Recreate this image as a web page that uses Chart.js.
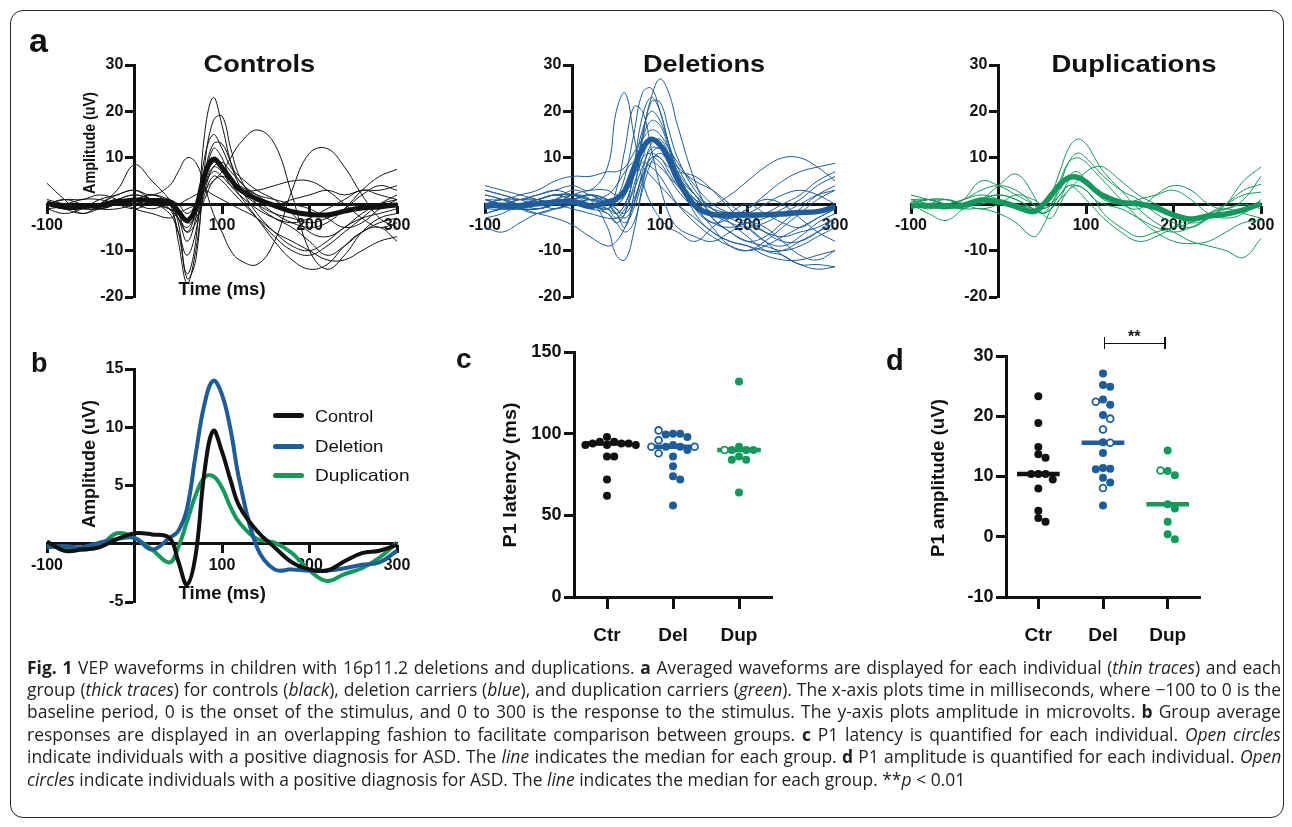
<!DOCTYPE html>
<html>
<head>
<meta charset="utf-8">
<title>VEP waveforms in 16p11.2</title>
<script src="https://cdn.jsdelivr.net/npm/chart.js@4.4.1/dist/chart.umd.min.js"></script>
<style>
  html, body { margin: 0; padding: 0; background: #fff; }
  #fig { position: relative; width: 1292px; height: 827px; overflow: hidden; font-family: "Liberation Sans", Arial, sans-serif; color: #111; }
  #frame { position: absolute; left: 10px; top: 10px; width: 1274px; height: 808px; box-sizing: border-box; border: 1.5px solid #2a2a2a; border-radius: 13px; }
  canvas { position: absolute; }
  .txt { position: absolute; white-space: nowrap; line-height: 1; z-index: 5; }
  .cap { font-family: "Open Sans", "Noto Sans", sans-serif; color: #231f20; font-weight: 400; }
  .cap b { font-weight: 700; }
  .bar { position: absolute; background: #111; z-index: 5; }
  .swatch { position: absolute; height: 5px; border-radius: 3px; z-index: 5; }
</style>
</head>
<body>
<div id="fig">
  <div id="frame"></div>
  <canvas id="chart-ctrl"></canvas>
  <canvas id="chart-del"></canvas>
  <canvas id="chart-dup"></canvas>
  <canvas id="chart-avg"></canvas>
  <canvas id="chart-lat"></canvas>
  <canvas id="chart-amp"></canvas>
</div>
<script>
// Fig. 1 - VEP waveforms (a, b) and P1 measures (c, d)

// --- Data: waveforms (uV) sampled at these times (ms) ---
const timeMs = [-100, -80, -60, -40, -20, 0, 20, 40, 50, 60, 70, 80, 90, 100, 110, 120, 140, 160, 180, 200, 220, 240, 260, 280, 300];

// group averages (thick traces, also panel b)
const ctrlAvg = [0.2, -0.6, -0.5, -0.3, 0.4, 0.9, 0.8, 0.5, -1.5, -3.5, -0.9, 6.2, 9.7, 7.9, 5.4, 3.2, 1.1, -0.3, -1.6, -2.2, -2.3, -1.5, -0.8, -0.6, -0.1];
const delAvg = [-0.3, -0.2, -0.3, 0.1, 0.4, 0.5, -0.5, 0.5, 1.1, 3, 7.7, 12, 14, 12.8, 9.7, 5.4, -0.3, -2.2, -2.2, -2.3, -2.3, -2.1, -1.8, -1.6, -0.6];
const dupAvg = [-0.2, -0.3, -0.5, -0.2, 0.9, 0.5, -0.5, -1.6, -0.3, 1.9, 4.2, 5.7, 5.8, 4.8, 3.1, 1.8, 0.4, 0.1, -0.8, -2.3, -3.2, -2.6, -2.1, -1.2, 0.1];

// individual traces (thin)
const ctrlTraces = [
  [0, -1, -0.5, 0, 1, 2, 1, -1, -6, -15, -8, 15, 23, 17, 9, 4, -2, -6, -9, -10, -8, -5, -3, -2, -1],
  [1, 0, -1, 0, 1, 1, 2, 0, -4, -16, -12, 8, 18, 19, 12, 6, 0, -3, -5, -8, -11, -9, -6, -4, -3],
  [-1, -2, -1, 1, 2, 3, 1, 0, -3, -8, -3, 10, 15, 12, 8, 6, 3, 1, -2, -6, -7, -5, -2, 0, 1],
  [0, 0, 1, 1, 0, -1, 0, -2, -6, -11, -6, 6, 13, 13, 9, 5, 2, 0, 1, 2, 3, 2, 3, 3, 4],
  [0, -1, -1, 0, 2, 3, 2, 4, 7, 10, 9, 4, -2, -6, -10, -12, -13, -8, 3, 11, 12, 8, 2, -3, -5],
  [0, 1, 1, 2, 1, -1, -2, -3, -2, -1, 0, 3, 5, 7, 10, 13, 16, 13, 2, -10, -14, -11, -6, -3, -2],
  [4.5, 1, -2, 0, 3, 8.5, 5, 1, -2, -6, -4, 2, 6, 5, 3, 1, -3, -7, -10, -11, -9, -6, -3, 0, 2],
  [0.5, 0, -1, -1, 0, 1, 0, -1, -3, -5, -2, 3, 8, 9, 7, 5, 1, -2, -4, -5, -4, -1, 3, 6, 7.5],
  [-1, -0.5, 0, 0, 1, 0, -1, 0, -1, -4, -3, 1, 5, 6, 5, 4, 2, 1, 0, -1, -3, -5, -4, -1, 1],
  [0, 0, 0, -1, -1, 0, 1, 0, 0, 1, 2, 3, 2, 1, 0, -1, -3, -6, -8, -10, -12, -12, -10, -8, -7],
  [0, -1, -2, -1, 0, 1, 2, 1, 0, -2, 0, 5, 9, 8, 6, 3, 0, -2, -3, -4, -3, -1, 2, 4, 3],
  [0, 0, 0, 0, 1, 2, 1, 0, -8, -17, -10, 4, 12, 10, 5, 2, -3, -8, -12, -14, -13, -9, -6, -5, -8],
  [0, 1, 0, -1, 0, 1, 0, -1, -2, -4, -1, 4, 7, 6, 4, 3, 3, 4, 5, 5, 3, 0, -3, -5, -4],
  [0, 0, 0, 0, 0, 0, 1, 0, -3, -6, -2, 4, 8, 7, 4, 2, -1, -3, -4, -3, -1, 1, 3, 2, 1],
];
const delTraces = [
  [1, 0, 1, 2, 3, 4, 3, 8, 20, 24, 15, 5, 0, -3, -5, -6, -8, -5, -2, 0, -2, -4, -5, -3, -1],
  [-1, -1, 0, 1, 2, 2, 0, -1, 3, 12, 21, 20, 12, 4, -2, -5, -7, -8, -6, -4, -5, -8, -11, -12, -10],
  [0, 1, 0, 0, -1, 0, 1, 0, -2, 0, 6, 15, 23, 27, 24, 17, 5, -3, -6, -8, -7, -4, -1, 2, 4],
  [2, 1, 0, 1, 2, 1, 0, -1, 1, 6, 15, 24, 25, 20, 13, 6, -2, -6, -8, -9, -10, -10, -8, -6, -4],
  [-2, -1, 0, 0, 1, 2, 1, -1, -3, -2, 8, 19, 23, 20, 13, 7, 0, -5, -9, -10, -8, -5, -2, 1, 3],
  [3, 2, 1, 0, 1, 3, 2, 0, -2, -5, 2, 14, 22, 22, 16, 10, 3, -1, -3, -5, -8, -11, -13, -14, -13.5],
  [0, -1, -1, 0, 1, 1, 2, 1, 0, 2, 8, 16, 20, 18, 13, 8, 2, -2, -3, -1, 2, 5, 7, 8, 8.8],
  [-3, -2, 0, 1, 2, 1, 0, -1, -2, 0, 6, 14, 18, 17, 12, 6, 1, -3, -6, -8, -9, -10, -9, -7, -5],
  [1, 1, 2, 3, 5, 6, 6, 7, 7, 8, 11, 14, 16, 15, 12, 9, 4, 0, -2, -4, -6, -7, -6, -5, -3],
  [0, 0, -1, -1, 0, 1, 0, -2, -4, -2, 4, 10, 14, 13, 9, 5, 1, 0, 2, 5, 8, 10, 10, 8, 5],
  [1, 0, -1, -1, 0, 2, 1, -5, -11, -12, -6, 4, 11, 12, 9, 5, -1, -4, -3, -1, 1, 0, -3, -6, -8],
  [0, -1, -1, -2, -3, -4.5, -7, -9, -8, -5, 0, 6, 10, 10, 7, 4, 0, -2, -3, -2, 0, 2, 3, 2, 0],
  [-5, -6, -4, -2, -1, 0, -1, -2, -4, -6, -4, 3, 9, 11, 9, 6, 2, -1, -4, -7, -10, -11, -13, -13, -13.5],
  [3, 2, 1, 2, 3, 2, 1, 0, -1, -2, 1, 6, 9, 8, 6, 4, 1, -1, -2, -3, -2, 0, 2, 5, 7],
  [-1, 0, 1, 1, 0, -1, -2, -3, -3, -1, 3, 8, 12, 12, 10, 8, 5, 3, 0, -3, -6, -8, -8, -6, -3],
  [2, 1, -1, -2, -1, 0, 1, 1, 0, 2, 6, 10, 11, 10, 8, 7, 6, 3, -1, -5, -8, -9, -7, -4, -2],
  [-2, -1, -1, -1, 0, 2, 3, 3, 2, 3, 6, 9, 8, 6, 3, 0, -4, -7, -9, -10, -9, -7, -5, -3, -1],
  [0, 1, 1, 1, 2, 2, 1, 2, 4, 7, 9, 8, 6, 4, 2, 0, -3, -6, -8, -9, -11, -12, -12, -11, -10],
  [4, 3, 2, 1, 0, 1, 2, 0, -2, -4, -1, 5, 10, 9, 6, 3, -1, -4, -5, -4, -3, -1, 1, 4, 6],
  [1, 0, 0, -1, 0, 1, 2, 1, -1, -3, 0, 7, 13, 14, 11, 7, 2, -2, -4, -5, -4, -2, 0, 2, 3],
];
const dupTraces = [
  [1, 1, 0, 1, 2, 1, -1, -2, -1, 2, 7, 12, 14, 13, 10, 7, 3, -1, -4, -6, -8, -9, -10, -11.5, -7.4],
  [0, -1, 0, 1, 3, 4, 3, 0, -2, 0, 4, 9, 11, 10, 8, 6, 3, 1, -2, -4, -5, -3, 0, 3, 4.3],
  [-1, 0, 1, 0, -1, 0, 2, 1, 0, 1, 5, 9, 10, 9, 7, 5, 1, -3, -6, -8, -8.5, -8, -6, -4, -3.5],
  [2, 1, 0, -1, 1, 2, 1, -1, -2, -1, 1, 3, 5, 7, 8, 8, 5, 2, 0, -2, -4, -3, 0, 5, 8],
  [1, 0, -1, 1, 5, 4, 2, 0, -1, 0, 3, 6, 7, 5, 3, 2, 0, -1, 2, 4, 3, 0, -1, 1, 6],
  [0, 1, 1, 0, 1, 4, 6.5, 2, -2, -3, 0, 3, 4, 3, 1, -2, -5, -7, -6, -5, -4, -2, 0, 2, 2.6],
  [0, 1, 0, -1, -1, -2, -4, -7, -5, -1, 2, 4, 4, 3, 1, 0, -1, -3, -5, -6, -5, -3, -1, 0, -1],
  [0, -2, -3.5, -1, 1, 2, 1, -1, -1, 0, 2, 4, 3, 1, -1, -3, -6, -8, -7, -5, -3, -2, -1, -2, -3],
  [0.5, 1, 1, 0, 0, 1, 0, -1, -2, -1, 1, 5, 6, 5, 3, 1, 0, 1, 2, 3, 1, -2, -3, -2, 1],
];

// --- Data: P1 measures per individual (open = ASD diagnosis) ---
const groups = ['Ctr', 'Del', 'Dup'];
const latCtr = [98, 95, 95, 94, 94, 94, 93, 93, 93, 86, 86, 72, 62];
const latDel = [100, 100, 99.5, 98, 93, 92, 92, 90, 86, 80, 74, 72, 56];
const latDelAsd = [102, 96, 92, 92, 88];
const latDup = [132, 92, 90, 90, 90, 86, 84, 84, 64];
const latDupAsd = [90];
const latMedian = [94, 92, 90];
const ampCtr = [23.3, 18.9, 14.9, 13.7, 13.1, 10.4, 10.4, 10.4, 9.5, 8.0, 4.3, 3.1, 2.5];
const ampDel = [27.1, 25.2, 24.9, 22.8, 21.9, 20.2, 15.7, 13.9, 11.4, 11.3, 11.2, 9.8, 9.0, 5.2];
const ampDelAsd = [22.4, 19.6, 17.8, 15.6, 8.1];
const ampDup = [14.3, 10.9, 10.2, 5.4, 4.7, 2.5, 0.4, -0.4];
const ampDupAsd = [11.0];
const ampMedian = [10.4, 15.6, 5.4];

// --- Style ---
const INK = '#111111';
const BLUE = '#1d5d9b';
const GREEN = '#12995c';
const PAD = 60;
const GAP = '\u2002\u2009'; // keeps y labels clear of a value-positioned axis

Chart.defaults.font.family = '"Liberation Sans", Arial, sans-serif';
Chart.defaults.color = INK;
Chart.defaults.plugins.legend.display = false;
Chart.defaults.plugins.tooltip.enabled = false;

// canvas sized so that the chart area lands on the given page box
function makeChart(id, area, cfg) {
  const cv = document.getElementById(id);
  const w = area.x1 - area.x0 + 2 * PAD;
  const h = area.y1 - area.y0 + 2 * PAD;
  cv.width = w; cv.height = h;
  cv.style.width = w + 'px'; cv.style.height = h + 'px';
  cv.style.left = (area.x0 - PAD) + 'px';
  cv.style.top = (area.y0 - PAD) + 'px';
  cfg.options = Object.assign({ responsive: false, animation: false, layout: { padding: PAD } }, cfg.options);
  return new Chart(cv, cfg);
}

const toXY = arr => arr.map((v, i) => ({ x: timeMs[i], y: v }));

function axisPair(x, y) {
  const grid = { drawOnChartArea: false, drawTicks: true, tickWidth: 3, tickColor: INK };
  const border = { display: true, color: INK, width: 3 };
  return {
    x: Object.assign({ type: 'linear', afterFit: s => { s.height = 0; }, border,
      grid: Object.assign({ tickLength: x.tickLength }, grid) }, x.opts),
    y: Object.assign({ type: 'linear', afterFit: s => { s.width = 0; }, border,
      grid: Object.assign({ tickLength: y.tickLength }, grid) }, y.opts),
  };
}

function waveScales(yMin, yMax, yStep) {
  return axisPair(
    { tickLength: 8, opts: { min: -100, max: 300, position: { y: 0 },
      ticks: { stepSize: 100, autoSkip: false, maxRotation: 0, padding: 4, color: INK, font: { size: 16, weight: 'bold' },
        callback: v => (v === 0 ? '' : v) } } },
    { tickLength: 8, opts: { min: yMin, max: yMax, position: { x: 0 },
      ticks: { stepSize: yStep, color: INK, font: { size: 16, weight: 'bold' },
        callback: v => (v === 0 ? '' : v + GAP) } } }
  );
}

function waveDatasets(avg, traces, color, thick) {
  const line = { pointRadius: 0, tension: 0.4, fill: false, clip: 8 };
  const ds = [Object.assign({ data: toXY(avg), borderColor: color, borderWidth: thick, order: 0 }, line)];
  traces.forEach(tr => ds.push(Object.assign({ data: toXY(tr), borderColor: color, borderWidth: 1, order: 1 }, line)));
  return ds;
}

// --- Panel a ---
makeChart('chart-ctrl', { x0: 47, x1: 397, y0: 65, y1: 297 }, {
  type: 'line',
  data: { datasets: waveDatasets(ctrlAvg, ctrlTraces, INK, 5) },
  options: { scales: waveScales(-20, 30, 10) },
});
makeChart('chart-del', { x0: 485, x1: 835, y0: 65, y1: 297 }, {
  type: 'line',
  data: { datasets: waveDatasets(delAvg, delTraces, BLUE, 5.5) },
  options: { scales: waveScales(-20, 30, 10) },
});
makeChart('chart-dup', { x0: 911, x1: 1261, y0: 65, y1: 297 }, {
  type: 'line',
  data: { datasets: waveDatasets(dupAvg, dupTraces, GREEN, 5.5) },
  options: { scales: waveScales(-20, 30, 10) },
});

// --- Panel b ---
const avgLine = { pointRadius: 0, tension: 0.4, fill: false, borderWidth: 4, clip: 8 };
makeChart('chart-avg', { x0: 47, x1: 397, y0: 369, y1: 602 }, {
  type: 'line',
  data: {
    datasets: [
      Object.assign({ label: 'Control', data: toXY(ctrlAvg), borderColor: INK, order: 0 }, avgLine),
      Object.assign({ label: 'Deletion', data: toXY(delAvg), borderColor: BLUE, order: 1 }, avgLine),
      Object.assign({ label: 'Duplication', data: toXY(dupAvg), borderColor: GREEN, order: 2 }, avgLine),
    ],
  },
  options: { scales: waveScales(-5, 15, 5) },
});

// --- Panels c, d: dot plots ---
// spread points sideways where they would overlap (pixel space)
function swarm(items, cx, pxX, pxY, dia) {
  const placed = [];
  return items.map(it => {
    const py = it.v * pxY;
    let off = 0;
    for (let k = 0; k < 40; k++) {
      const o = (k % 2 ? 1 : -1) * Math.ceil(k / 2) * dia;
      if (placed.every(p => Math.hypot(p.x - o, p.y - py) >= dia - 0.5)) { off = o; break; }
    }
    placed.push({ x: off, y: py });
    return { x: cx + off / pxX, y: it.v, open: it.open };
  });
}

function dotDatasets(sets, medians, pxX, pxY) {
  const colors = [INK, BLUE, GREEN];
  const ds = [];
  sets.forEach((s, g) => {
    const items = s.filled.map(v => ({ v, open: false })).concat(s.open.map(v => ({ v, open: true })));
    const pts = swarm(items, g + 1, pxX, pxY, 7.2);
    ds.push({
      data: [{ x: g + 1 - 0.33, y: medians[g] }, { x: g + 1 + 0.33, y: medians[g] }],
      showLine: true, borderColor: colors[g], borderWidth: 4.5, pointRadius: 0, order: 2,
    });
    ds.push({
      data: pts.filter(p => !p.open), pointRadius: 4, pointBackgroundColor: colors[g],
      pointBorderWidth: 0, order: 1,
    });
    ds.push({
      data: pts.filter(p => p.open), pointRadius: 3.4, pointBackgroundColor: '#fff',
      pointBorderColor: colors[g], pointBorderWidth: 1.8, order: 0,
    });
  });
  return ds;
}

function dotScales(yMin, yMax, yStep) {
  return axisPair(
    { tickLength: 10, opts: { min: 0.5, max: 3.5, position: { y: yMin },
      afterBuildTicks: s => { s.ticks = groups.map((g, i) => ({ value: i + 1 })); },
      ticks: { autoSkip: false, maxRotation: 0, padding: 17, color: INK, font: { size: 19, weight: 'bold' },
        callback: v => groups[v - 1] } } },
    { tickLength: 9, opts: { min: yMin, max: yMax, position: { x: 0.5 },
      ticks: { stepSize: yStep, color: INK, font: { size: 18, weight: 'bold' }, callback: v => v + GAP } } }
  );
}

makeChart('chart-lat', { x0: 574, x1: 772, y0: 352, y1: 597 }, {
  type: 'scatter',
  data: {
    datasets: dotDatasets([
      { filled: latCtr, open: [] },
      { filled: latDel, open: latDelAsd },
      { filled: latDup, open: latDupAsd },
    ], latMedian, 66, 245 / 150),
  },
  options: { scales: dotScales(0, 150, 50) },
});

makeChart('chart-amp', { x0: 1006, x1: 1200, y0: 356, y1: 597 }, {
  type: 'scatter',
  data: {
    datasets: dotDatasets([
      { filled: ampCtr, open: [] },
      { filled: ampDel, open: ampDelAsd },
      { filled: ampDup, open: ampDupAsd },
    ], ampMedian, 194 / 3, 241 / 40),
  },
  options: { scales: dotScales(-10, 30, 10) },
});

// --- Text ---
const fig = document.getElementById('fig');

function baselineOf(el) {
  const m = document.createElement('span');
  m.style.cssText = 'display:inline-block;width:0;height:0;vertical-align:baseline';
  el.appendChild(m);
  const b = m.offsetTop;
  el.removeChild(m);
  return b;
}

// o: size, weight, width (fit), base + x|cx, or rotate with cx, cy
function addText(html, o) {
  const el = document.createElement('div');
  el.className = 'txt' + (o.cls ? ' ' + o.cls : '');
  el.innerHTML = html;
  el.style.fontSize = o.size + 'px';
  el.style.fontWeight = o.weight || 'bold';
  fig.appendChild(el);
  const w = el.offsetWidth, h = el.offsetHeight;
  const s = o.width ? o.width / w : 1;
  if (o.rotate) {
    el.style.left = (o.cx - w / 2) + 'px';
    el.style.top = (o.cy - h / 2) + 'px';
    el.style.transform = 'rotate(-90deg) scaleX(' + s + ')';
  } else {
    const b = baselineOf(el);
    el.style.top = (o.base - b) + 'px';
    if (o.cx != null) {
      el.style.left = (o.cx - w / 2) + 'px';
      el.style.transformOrigin = 'center';
    } else {
      el.style.left = o.x + 'px';
      el.style.transformOrigin = 'left';
    }
    el.style.transform = 'scaleX(' + s + ')';
  }
  return el;
}

// panel letters
addText('a', { x: 29, base: 52, size: 34 });
addText('b', { x: 31, base: 372, size: 27 });
addText('c', { x: 456, base: 368, size: 28 });
addText('d', { x: 886, base: 370, size: 29 });

// panel a titles
addText('Controls', { cx: 259, base: 72, size: 24, width: 112 });
addText('Deletions', { cx: 704, base: 72, size: 24, width: 122 });
addText('Duplications', { cx: 1134, base: 72, size: 24, width: 165 });

// axis titles
addText('Amplitude (uV)', { rotate: true, cx: 90, cy: 143, size: 16, width: 102 });
addText('Time (ms)', { cx: 222, base: 295, size: 18.5, width: 87 });
addText('Amplitude (uV)', { rotate: true, cx: 89, cy: 464, size: 18, width: 128 });
addText('Time (ms)', { cx: 222, base: 599, size: 17.5, width: 87 });
addText('P1 latency (ms)', { rotate: true, cx: 510, cy: 475, size: 18, width: 145 });
addText('P1 amplitude (uV)', { rotate: true, cx: 938, cy: 478, size: 18, width: 158 });

// panel b legend
const legendRows = [
  { label: 'Control', color: INK, y: 415, base: 421.5, width: 58 },
  { label: 'Deletion', color: BLUE, y: 446, base: 451.5, width: 69 },
  { label: 'Duplication', color: GREEN, y: 475, base: 480.5, width: 95 },
];
legendRows.forEach(r => {
  const sw = document.createElement('div');
  sw.className = 'swatch';
  sw.style.cssText += 'left:273px;width:31px;top:' + (r.y - 2.5) + 'px;background:' + r.color;
  fig.appendChild(sw);
  addText(r.label, { x: 315, base: r.base, size: 16.5, weight: 'normal', width: r.width });
});

// significance bracket in d
function bar(l, t, w, h) {
  const d = document.createElement('div');
  d.className = 'bar';
  d.style.cssText += 'left:' + l + 'px;top:' + t + 'px;width:' + w + 'px;height:' + h + 'px';
  fig.appendChild(d);
}
bar(1104, 342.5, 61, 1.6);
bar(1103.5, 337, 1.6, 12);
bar(1164, 337, 1.6, 12);
addText('**', { cx: 1134, base: 342, size: 16 });

// caption
const capLines = [
  '<b>Fig. 1</b> VEP waveforms in children with 16p11.2 deletions and duplications. <b>a</b> Averaged waveforms are displayed for each individual (<i>thin traces</i>) and each',
  'group (<i>thick traces</i>) for controls (<i>black</i>), deletion carriers (<i>blue</i>), and duplication carriers (<i>green</i>). The x-axis plots time in milliseconds, where &minus;100 to 0 is the',
  'baseline period, 0 is the onset of the stimulus, and 0 to 300 is the response to the stimulus. The y-axis plots amplitude in microvolts. <b>b</b> Group average',
  'responses are displayed in an overlapping fashion to facilitate comparison between groups. <b>c</b> P1 latency is quantified for each individual. <i>Open circles</i>',
  'indicate individuals with a positive diagnosis for ASD. The <i>line</i> indicates the median for each group. <b>d</b> P1 amplitude is quantified for each individual. <i>Open</i>',
  '<i>circles</i> indicate individuals with a positive diagnosis for ASD. The <i>line</i> indicates the median for each group. **<i>p</i> &lt; 0.01',
];
const capLeft = 27, capFull = 1254, capLastWidth = 939, capBase0 = 673.5, capStep = 22.4;

(function layoutCaption() {
  const probe = addText(capLines[5], { x: capLeft, base: 0, size: 16, weight: 'normal', cls: 'cap' });
  const size = 16 * capLastWidth / probe.offsetWidth;
  fig.removeChild(probe);
  capLines.forEach((line, i) => {
    const el = addText(line, { x: capLeft, base: capBase0 + i * capStep, size, weight: 'normal', cls: 'cap' });
    if (i === capLines.length - 1) return;
    const w = el.offsetWidth;
    const gaps = el.textContent.split(' ').length - 1;
    if (w < capFull) {
      el.style.wordSpacing = ((capFull - w) / gaps) + 'px';
    } else {
      el.style.transform = 'scaleX(' + (capFull / w) + ')';
    }
  });
})();
</script>
</body>
</html>
